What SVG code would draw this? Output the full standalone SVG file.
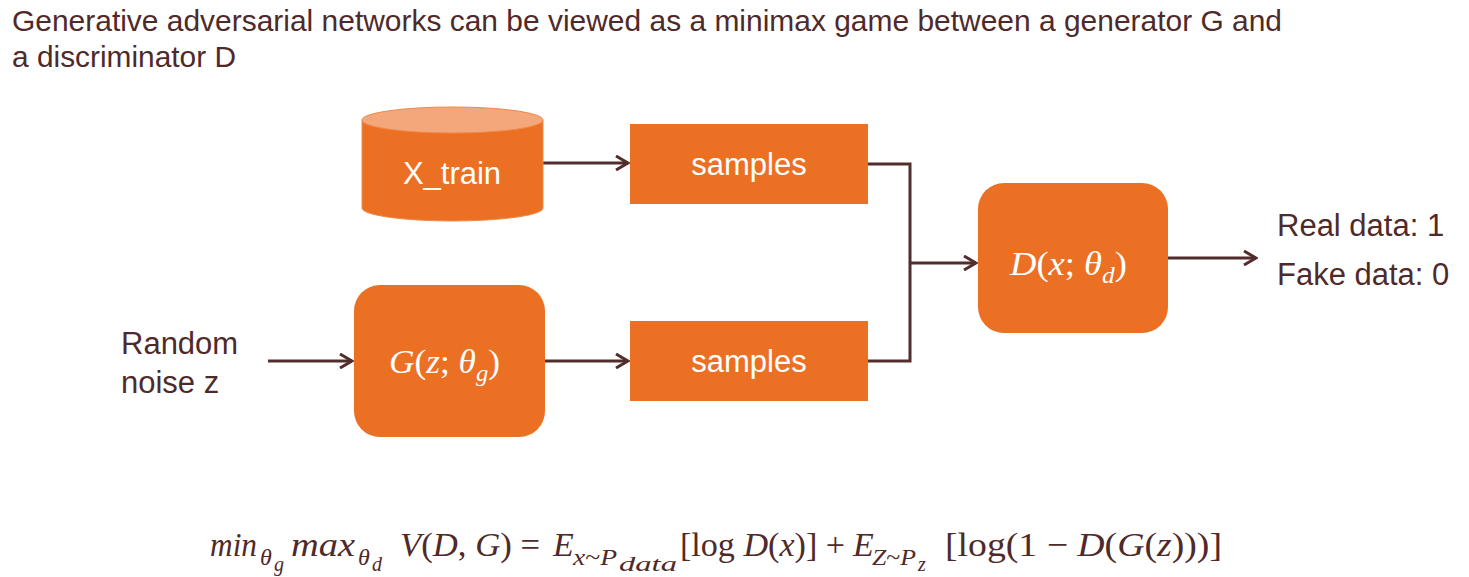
<svg xmlns="http://www.w3.org/2000/svg" width="1469" height="577" viewBox="0 0 1469 577">
<style>
.t{font-family:"Liberation Sans",Arial,sans-serif;fill:#4F2A2A}
.w{font-family:"Liberation Sans",Arial,sans-serif;fill:#FFFFFF;font-size:31px;text-anchor:middle}
.m{font-family:"Liberation Serif","Times New Roman",serif;fill:#FFFFFF;font-style:italic}
.e{font-family:"Liberation Serif","Times New Roman",serif;fill:#4F2A2A}
.i{font-style:italic}
.box{fill:#EC7023}
.c{stroke:#532C2C;stroke-width:3;fill:none}
</style>
<defs>
<marker id="arr" markerUnits="userSpaceOnUse" viewBox="0 0 16 16" markerWidth="16" markerHeight="16" refX="14" refY="8" orient="auto">
<path d="M2,1 L14,8 L2,15" fill="none" stroke="#532C2C" stroke-width="3"/>
</marker>
</defs>
<rect width="1469" height="577" fill="#FFFFFF"/>
<g id="title">
<text class="t" x="12" y="31" font-size="29" textLength="1270" lengthAdjust="spacingAndGlyphs">Generative adversarial networks can be viewed as a minimax game between a generator G and</text>
<text class="t" x="12" y="67" font-size="29" textLength="224" lengthAdjust="spacingAndGlyphs">a discriminator D</text>
</g>
<g id="connectors">
<line class="c" x1="543" y1="163" x2="628" y2="163" marker-end="url(#arr)"/>
<line class="c" x1="268" y1="361" x2="352" y2="361" marker-end="url(#arr)"/>
<line class="c" x1="545" y1="361" x2="628" y2="361" marker-end="url(#arr)"/>
<polyline class="c" points="868,164 910,164 910,361 868,361"/>
<line class="c" x1="910" y1="263" x2="976" y2="263" marker-end="url(#arr)"/>
<line class="c" x1="1168" y1="258" x2="1256" y2="258" marker-end="url(#arr)"/>
</g>
<g id="x_train">
<path d="M362,120 L362,208 A90.5,13 0 0 0 543,208 L543,120 Z" fill="#EC7023" stroke="#F08A4A" stroke-width="1"/>
<ellipse cx="452.5" cy="120" rx="90.5" ry="13" fill="#F4A77B" stroke="#F08A4A" stroke-width="1"/>
<text class="w" x="452" y="184" font-size="32">X_train</text>
</g>
<g id="samples_top">
<rect class="box" x="630" y="124" width="238" height="80"/>
<text class="w" x="749" y="175">samples</text>
</g>
<g id="samples_bottom">
<rect class="box" x="630" y="321" width="238" height="80"/>
<text class="w" x="749" y="372">samples</text>
</g>
<g id="random_noise">
<text class="t" x="121" y="354" font-size="31">Random</text>
<text class="t" x="121" y="393" font-size="31">noise z</text>
</g>
<g id="generator">
<rect class="box" x="354" y="285" width="191" height="152" rx="26"/>
<text class="m" x="389" y="373" font-size="33" textLength="111" lengthAdjust="spacingAndGlyphs">G<tspan font-style="normal">(</tspan>z<tspan font-style="normal">;</tspan> θ<tspan font-size="23" dy="8">g</tspan><tspan font-style="normal" dy="-8">)</tspan></text>
</g>
<g id="discriminator">
<rect class="box" x="978" y="183" width="190" height="150" rx="26"/>
<text class="m" x="1010" y="275" font-size="33" textLength="117" lengthAdjust="spacingAndGlyphs">D<tspan font-style="normal">(</tspan>x<tspan font-style="normal">;</tspan> θ<tspan font-size="23" dy="8">d</tspan><tspan font-style="normal" dy="-8">)</tspan></text>
</g>
<g id="output">
<text class="t" x="1277" y="236" font-size="31">Real data: 1</text>
<text class="t" x="1277" y="285" font-size="31">Fake data: 0</text>
</g>
<g id="equation">
<text class="e i" x="210" y="556" font-size="34" textLength="47" lengthAdjust="spacingAndGlyphs">min</text>
<text class="e i" x="260" y="565" font-size="24">θ</text>
<text class="e i" x="274" y="571" font-size="20">g</text>
<text class="e i" x="291" y="556" font-size="34" textLength="64" lengthAdjust="spacingAndGlyphs">max</text>
<text class="e i" x="358" y="565" font-size="24">θ</text>
<text class="e i" x="372" y="571" font-size="20">d</text>
<text class="e" x="400" y="556" font-size="34" textLength="140" lengthAdjust="spacingAndGlyphs"><tspan class="i">V</tspan>(<tspan class="i">D</tspan>, <tspan class="i">G</tspan>) =</text>
<text class="e i" x="553" y="556" font-size="34">E</text>
<text class="e" x="573" y="565" font-size="24" textLength="44" lengthAdjust="spacingAndGlyphs"><tspan class="i">x</tspan>~<tspan class="i">P</tspan></text>
<text class="e i" x="619" y="571" font-size="20" textLength="58" lengthAdjust="spacingAndGlyphs">data</text>
<text class="e" x="680" y="556" font-size="34" textLength="165" lengthAdjust="spacingAndGlyphs">[log <tspan class="i">D</tspan>(<tspan class="i">x</tspan>)] +</text>
<text class="e i" x="853" y="556" font-size="34">E</text>
<text class="e" x="872" y="565" font-size="24" textLength="44" lengthAdjust="spacingAndGlyphs"><tspan class="i">Z</tspan>~<tspan class="i">P</tspan></text>
<text class="e i" x="918" y="571" font-size="20">z</text>
<text class="e" x="945" y="556" font-size="34" textLength="277" lengthAdjust="spacingAndGlyphs">[log(1 −  <tspan class="i">D</tspan>(<tspan class="i">G</tspan>(<tspan class="i">z</tspan>)))]</text>
</g>
</svg>
